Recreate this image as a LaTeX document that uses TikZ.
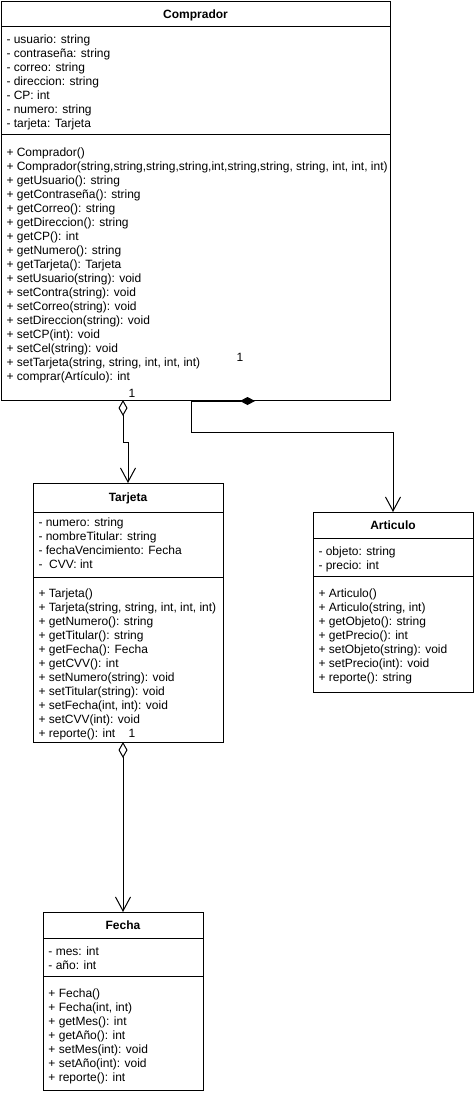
\documentclass[tikz,border=0pt]{standalone}
\usepackage{fontspec}
\setmainfont{Liberation Sans}
\usetikzlibrary{arrows.meta}

\begin{document}
\begin{tikzpicture}[x=1pt, y=-1pt, line width=1pt,
    classbox/.style={draw, rectangle, inner sep=0pt, outer sep=0pt},
    classtitle/.style={font=\fontsize{12}{14}\selectfont\bfseries, inner sep=0pt, anchor=base},
    member/.style={font=\fontsize{12}{14}\selectfont, inner sep=0pt, anchor=base west},
    mult/.style={font=\fontsize{12}{14}\selectfont, inner sep=0pt, anchor=base},
    agg/.style={{Diamond[open, length=16pt, width=9pt]}-{Straight Barb[length=14pt, width=15pt]}},
    comp/.style={{Diamond[length=15pt, width=8pt]}-{Straight Barb[length=14pt, width=15pt]}}]
            \useasboundingbox (0,0) rectangle (474,1096);
            % Comprador
            \node[classbox, minimum width=389pt, minimum height=399pt] (comprador) at (195.5,200.5) {};
            \node[classtitle] (comprador-name) at (195.5,18) {Comprador};
            \draw (comprador.west |- 0,26) -- (comprador.east |- 0,26);
            \draw (comprador.west |- 0,134) -- (comprador.east |- 0,134);
            \foreach \m [count=\i from 0] in {- usuario: string, - contraseña: string, - correo: string,
                - direccion: string, - CP: int, - numero: string, - tarjeta: Tarjeta}
                \node[member] (comprador-a\i) at (6,43+14*\i) {\m};
            \foreach \m [count=\i from 0] in {+ Comprador(),
                {+ Comprador(string,string,string,string,int,string,string, string, int, int, int)},
                + getUsuario(): string, + getContraseña(): string, + getCorreo(): string,
                + getDireccion(): string, + getCP(): int, + getNumero(): string,
                + getTarjeta(): Tarjeta, + setUsuario(string): void, + setContra(string): void,
                + setCorreo(string): void, + setDireccion(string): void, + setCP(int): void,
                + setCel(string): void, {+ setTarjeta(string, string, int, int, int)},
                + comprar(Artículo): int}
                \node[member] (comprador-m\i) at (6,156+14*\i) {\m};
            % Tarjeta
            \node[classbox, minimum width=190pt, minimum height=259pt] (tarjeta) at (128,612.5) {};
            \node[classtitle] (tarjeta-name) at (128,501) {Tarjeta};
            \draw (tarjeta.west |- 0,512) -- (tarjeta.east |- 0,512);
            \draw (tarjeta.west |- 0,577) -- (tarjeta.east |- 0,577);
            \foreach \m [count=\i from 0] in {- numero: string, - nombreTitular: string,
                - fechaVencimiento: Fecha, - \ CVV: int}
                \node[member] (tarjeta-a\i) at (38,526+14*\i) {\m};
            \foreach \m [count=\i from 0] in {+ Tarjeta(), {+ Tarjeta(string, string, int, int, int)},
                + getNumero(): string, + getTitular(): string, + getFecha(): Fecha, + getCVV(): int,
                + setNumero(string): void, + setTitular(string): void, {+ setFecha(int, int): void},
                + setCVV(int): void, + reporte(): int}
                \node[member] (tarjeta-m\i) at (38,597+14*\i) {\m};
            % Articulo
            \node[classbox, minimum width=160pt, minimum height=180pt] (articulo) at (393,602) {};
            \node[classtitle] (articulo-name) at (393,529) {Articulo};
            \draw (articulo.west |- 0,538) -- (articulo.east |- 0,538);
            \draw (articulo.west |- 0,576) -- (articulo.east |- 0,576);
            \foreach \m [count=\i from 0] in {- objeto: string, - precio: int}
                \node[member] (articulo-a\i) at (318,555+14*\i) {\m};
            \foreach \m [count=\i from 0] in {+ Articulo(), {+ Articulo(string, int)},
                + getObjeto(): string, + getPrecio(): int, + setObjeto(string): void,
                + setPrecio(int): void, + reporte(): string}
                \node[member] (articulo-m\i) at (318,597+14*\i) {\m};
            % Fecha
            \node[classbox, minimum width=160pt, minimum height=178pt] (fecha) at (123,1001) {};
            \node[classtitle] (fecha-name) at (123,929) {Fecha};
            \draw (fecha.west |- 0,938) -- (fecha.east |- 0,938);
            \draw (fecha.west |- 0,976) -- (fecha.east |- 0,976);
            \foreach \m [count=\i from 0] in {- mes: int, - año: int}
                \node[member] (fecha-a\i) at (48,955+14*\i) {\m};
            \foreach \m [count=\i from 0] in {+ Fecha(), {+ Fecha(int, int)}, + getMes(): int,
                + getAño(): int, + setMes(int): void, + setAño(int): void, + reporte(): int}
                \node[member] (fecha-m\i) at (48,997+14*\i) {\m};
            % Relations
            \coordinate (compAgg) at (123,400);
            \coordinate (compDiam) at (255,401);
            \draw[agg] (compAgg) -- ++(0,42) -| (tarjeta.north);
            \draw[comp] (compDiam) -| (191,432) -| (articulo.north);
            \draw[agg] (tarjeta.south -| fecha.north) -- (fecha.north);
            \node[mult] (mult-comp) at (240,361) {1};
            \node[mult] (mult-agg) at (132,397) {1};
            \node[mult] (mult-fecha) at (132,737) {1};
        \end{tikzpicture}
\end{document}
